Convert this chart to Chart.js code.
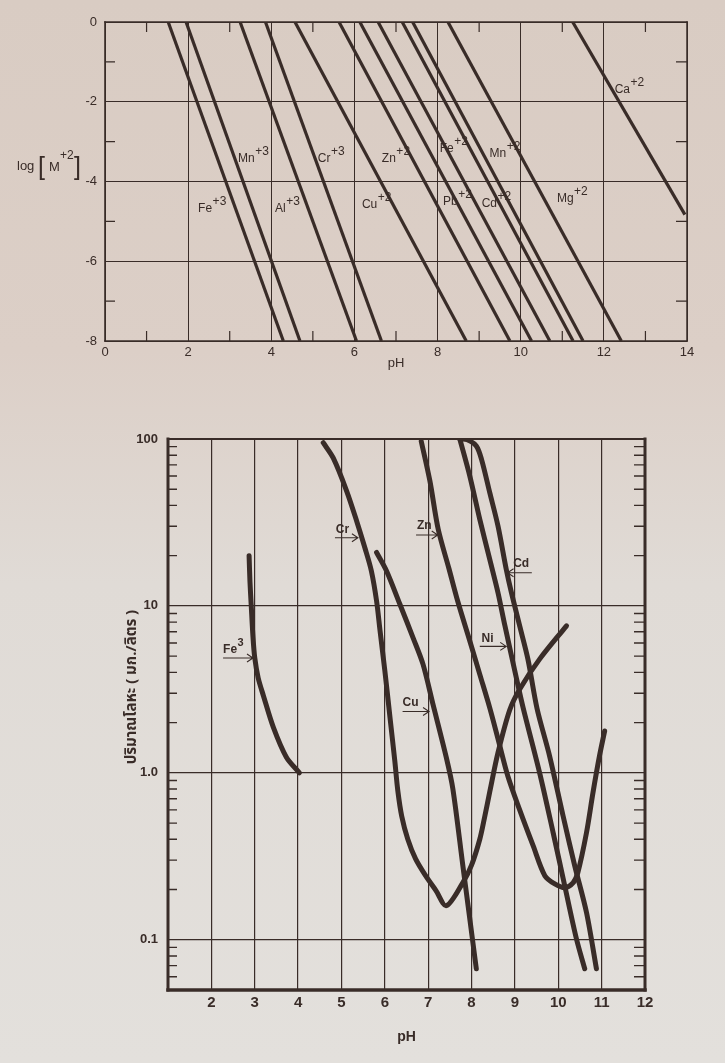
<!DOCTYPE html>
<html>
<head>
<meta charset="utf-8">
<script src="https://cdn.jsdelivr.net/npm/chart.js@4.4.1/dist/chart.umd.min.js"></script>
<style>
html, body { margin: 0; padding: 0; }
body {
  width: 725px; height: 1063px; overflow: hidden; position: relative;
  background: linear-gradient(180deg, #d9ccc3 0%, #dccfc7 33%, #e0dbd6 55%, #e3e0dc 100%);
}
#top { position: absolute; left: 0; top: 0; }
#bottom { position: absolute; left: 0; top: 400px; }
</style>
</head>
<body>
<canvas id="top" width="725" height="375"></canvas>
<canvas id="bottom" width="725" height="663"></canvas>
<script>
var ink = '#392c28';
var sans = "'Liberation Sans', Arial, Helvetica, sans-serif";
Chart.defaults.font.family = sans;
Chart.defaults.color = ink;

// ---- top chart: log[M] vs pH, one straight line per ion ----
var ions     = ['Fe', 'Mn', 'Al', 'Cr', 'Cu', 'Zn', 'Fe', 'Pb', 'Cd', 'Mn', 'Mg', 'Ca'];
var charges  = ['+3', '+3', '+3', '+3', '+2', '+2', '+2', '+2', '+2', '+2', '+2', '+2'];
var startPH  = [1.52, 1.95, 3.25, 3.86, 4.57, 5.63, 6.13, 6.57, 7.15, 7.40, 8.25, 11.25];
var startLog = [0, 0, 0, 0, 0, 0, 0, 0, 0, 0, 0, 0];
var endPH    = [4.29, 4.69, 6.05, 6.65, 8.69, 9.74, 10.26, 10.70, 11.26, 11.50, 12.42, 13.95];
var endLog   = [-8, -8, -8, -8, -8, -8, -8, -8, -8, -8, -8, -4.83];

// ---- bottom chart: dissolved metal (mg/l) vs pH ----
var fePH = [2.87, 2.89, 2.92, 2.96, 3.0, 3.08, 3.2, 3.43, 3.73, 4.03];
var feMg = [20, 14, 10, 6.5, 4.9, 3.7, 2.9, 1.87, 1.24, 1.0];

var crPH = [4.58, 4.81, 5.12, 5.35, 5.54, 5.69, 5.81, 5.89, 6.0, 6.12, 6.23, 6.3, 6.39, 6.53, 6.71, 6.94, 7.18, 7.42,
            7.8, 8.0, 8.19, 8.3, 8.42, 8.61, 8.88, 9.11, 9.57, 10.19];
var crMg = [95, 77, 48.8, 32.3, 22.3, 16.2, 10.7, 7.1, 4.1, 2.14, 1.18, 0.78, 0.55, 0.40, 0.305, 0.242, 0.197, 0.16,
            0.22, 0.28, 0.40, 0.54, 0.77, 1.32, 2.38, 3.17, 4.8, 7.6];

var cuPH = [5.81, 6.04, 6.35, 6.65, 6.88, 7.11, 7.42, 7.57, 7.8, 7.92, 8.11];
var cuMg = [20.9, 16.2, 10.2, 6.46, 4.48, 2.58, 1.23, 0.80, 0.277, 0.16, 0.067];

var znPH = [6.84, 7.04, 7.23, 7.48, 7.68, 7.96, 8.19, 8.42, 8.61, 8.84, 9.11, 9.42, 9.69, 9.92, 10.15, 10.34, 10.45, 10.65, 10.8, 10.95, 11.07];
var znMg = [97, 56, 28.9, 16.7, 10.7, 6.17, 3.89, 2.45, 1.6, 0.95, 0.6, 0.366, 0.242, 0.216, 0.205, 0.219, 0.252, 0.437, 0.76, 1.26, 1.78];

var niPH = [7.73, 7.96, 8.19, 8.42, 8.61, 8.77, 9.04, 9.19, 9.57, 9.88, 10.15, 10.42, 10.61];
var niMg = [100, 60, 33, 19, 12, 7.6, 3.64, 2.45, 1.0, 0.44, 0.21, 0.101, 0.067];

var cdPH = [7.73, 7.9, 8.11, 8.23, 8.42, 8.61, 8.8, 8.92, 9.11, 9.3, 9.51, 9.8, 10.11, 10.38, 10.65, 10.88];
var cdMg = [100, 99, 90.8, 75.5, 47.7, 30.1, 16.6, 12.0, 7.59, 4.8, 2.43, 1.26, 0.553, 0.277, 0.146, 0.067];

var bottomYTicks = [0.06, 0.07, 0.08, 0.09, 0.1, 0.2, 0.3, 0.4, 0.5, 0.6, 0.7, 0.8, 0.9,
  1, 2, 3, 4, 5, 6, 7, 8, 9, 10, 20, 30, 40, 50, 60, 70, 80, 90, 100];
var bottomYLabels = { 100: '100', 10: '10', 1: '1.0', 0.1: '0.1' };

function pairs(xs, ys) {
  return xs.map(function (x, i) { return { x: x, y: ys[i] }; });
}

// text labels placed in data units
var topLabels = [
  { text: 'Fe', sup: '+3', x: 2.24, y: -4.77 },
  { text: 'Mn', sup: '+3', x: 3.20, y: -3.52 },
  { text: 'Cr', sup: '+3', x: 5.12, y: -3.52 },
  { text: 'Zn', sup: '+2', x: 6.66, y: -3.52 },
  { text: 'Al', sup: '+3', x: 4.09, y: -4.77 },
  { text: 'Cu', sup: '+2', x: 6.18, y: -4.67 },
  { text: 'Fe', sup: '+2', x: 8.05, y: -3.27 },
  { text: 'Mn', sup: '+2', x: 9.25, y: -3.39 },
  { text: 'Pb', sup: '+2', x: 8.13, y: -4.60 },
  { text: 'Cd', sup: '+2', x: 9.06, y: -4.65 },
  { text: 'Mg', sup: '+2', x: 10.87, y: -4.52 },
  { text: 'Ca', sup: '+2', x: 12.26, y: -1.78 }
];
var bottomLabels = [
  { text: 'Fe', sup: '3', x: 2.27, y: 5.25, arrow: [2.27, 2.96, 4.88] },
  { text: 'Cr', x: 4.87, y: 27.4, arrow: [4.85, 5.38, 25.6] },
  { text: 'Zn', x: 6.74, y: 28.9, arrow: [6.72, 7.22, 26.6] },
  { text: 'Cu', x: 6.41, y: 2.52, arrow: [6.41, 7.02, 2.33] },
  { text: 'Ni', x: 8.23, y: 6.09, arrow: [8.19, 8.8, 5.72] },
  { text: 'Cd', x: 8.96, y: 17.2, arrow: [9.39, 8.83, 15.8] }
];

// inward minor ticks, frame and in-plot labels
var marks = {
  id: 'marks',
  afterDraw: function (chart, args, o) {
    var ctx = chart.ctx, a = chart.chartArea, xs = chart.scales.x, ys = chart.scales.y;
    ctx.save();
    ctx.strokeStyle = ink;
    ctx.fillStyle = ink;
    ctx.lineWidth = o.tickWidth;
    ctx.beginPath();
    (o.xMinor || []).forEach(function (v) {
      var p = xs.getPixelForValue(v);
      ctx.moveTo(p, a.bottom); ctx.lineTo(p, a.bottom - o.tickLen);
      ctx.moveTo(p, a.top); ctx.lineTo(p, a.top + o.tickLen);
    });
    (o.yMinor || []).forEach(function (v) {
      var p = ys.getPixelForValue(v);
      ctx.moveTo(a.left, p); ctx.lineTo(a.left + o.tickLen, p);
      ctx.moveTo(a.right, p); ctx.lineTo(a.right - o.rightTickLen, p);
    });
    ctx.stroke();

    var b = o.frame;
    ctx.lineCap = 'square';
    [[a.left, a.top, a.right, a.top, b[0]],
     [a.right, a.top, a.right, a.bottom, b[1]],
     [a.left, a.bottom, a.right, a.bottom, b[2]],
     [a.left, a.top, a.left, a.bottom, b[3]]].forEach(function (s) {
      ctx.lineWidth = s[4];
      ctx.beginPath(); ctx.moveTo(s[0], s[1]); ctx.lineTo(s[2], s[3]); ctx.stroke();
    });
    ctx.lineCap = 'butt';

    ctx.textAlign = 'left';
    ctx.textBaseline = 'alphabetic';
    (o.labels || []).forEach(function (l) {
      var px = xs.getPixelForValue(l.x), py = ys.getPixelForValue(l.y);
      ctx.font = o.labelFont;
      ctx.fillText(l.text, px, py);
      if (l.sup) {
        var w = ctx.measureText(l.text).width;
        ctx.font = o.supFont;
        ctx.fillText(l.sup, px + w + 0.5, py - o.supRise);
      }
      if (l.arrow) {
        var x1 = xs.getPixelForValue(l.arrow[0]), x2 = xs.getPixelForValue(l.arrow[1]);
        var ay = ys.getPixelForValue(l.arrow[2]);
        var d = x2 > x1 ? 1 : -1;
        ctx.lineWidth = 1.1;
        ctx.beginPath();
        ctx.moveTo(x1, ay); ctx.lineTo(x2, ay);
        ctx.moveTo(x2 - d * 6, ay - 4); ctx.lineTo(x2, ay); ctx.lineTo(x2 - d * 6, ay + 4);
        ctx.stroke();
      }
    });
    if (o.extra) o.extra(ctx, a);
    ctx.restore();
  }
};

function evenOnly(c) {
  return c.tick && Math.abs(c.tick.value % 2) === 0 ? ink : 'rgba(0,0,0,0)';
}

new Chart(document.getElementById('top'), {
  type: 'line',
  data: {
    datasets: ions.map(function (n, i) {
      return {
        label: n + charges[i],
        data: [{ x: startPH[i], y: startLog[i] }, { x: endPH[i], y: endLog[i] }],
        borderColor: ink, borderWidth: 3.2, pointRadius: 0, fill: false
      };
    })
  },
  options: {
    responsive: false, animation: false, devicePixelRatio: 1,
    layout: { padding: { left: 0, top: 22, right: 38, bottom: 0 } },
    plugins: {
      legend: { display: false }, tooltip: { enabled: false },
      marks: {
        xMinor: [1, 3, 5, 7, 9, 11, 13], yMinor: [-1, -3, -5, -7],
        tickLen: 10, rightTickLen: 11, tickWidth: 1.2,
        frame: [1.5, 1.5, 1.6, 1.6],
        labels: topLabels, labelFont: '12px ' + sans, supFont: '12px ' + sans, supRise: 7,
        extra: function (ctx) {
          ctx.font = '13px ' + sans;
          ctx.fillText('log', 17, 170);
          ctx.font = '300 25px ' + sans;
          ctx.fillText('[', 38, 175);
          ctx.fillText(']', 74, 175);
          ctx.font = '13px ' + sans;
          ctx.fillText('M', 49, 171);
          ctx.font = '12px ' + sans;
          ctx.fillText('+2', 60, 159);
        }
      }
    },
    scales: {
      x: {
        type: 'linear', min: 0, max: 14,
        afterFit: function (s) { s.height = 34; },
        ticks: {
          stepSize: 1, autoSkip: false, maxRotation: 0, padding: 4,
          font: { size: 13 },
          callback: function (v) { return v % 2 === 0 ? String(v) : ''; }
        },
        grid: { drawTicks: false, color: evenOnly, lineWidth: 1 },
        border: { display: false },
        title: { display: true, text: 'pH', font: { size: 13 }, padding: { top: 0, bottom: 4 } }
      },
      y: {
        type: 'linear', min: -8, max: 0,
        afterFit: function (s) { s.width = 105; },
        ticks: {
          stepSize: 1, autoSkip: false, padding: 8,
          font: { size: 13 },
          callback: function (v) { return v % 2 === 0 ? String(v) : ''; }
        },
        grid: { drawTicks: false, color: evenOnly, lineWidth: 1 },
        border: { display: false }
      }
    }
  },
  plugins: [marks]
});

function curve(name, xs, ys) {
  return {
    label: name, data: pairs(xs, ys),
    borderColor: ink, borderWidth: 5, pointRadius: 0, fill: false,
    tension: 0.3,
    borderCapStyle: 'round', borderJoinStyle: 'round'
  };
}

new Chart(document.getElementById('bottom'), {
  type: 'line',
  data: {
    datasets: [
      curve('Fe3', fePH, feMg),
      curve('Cr', crPH, crMg),
      curve('Cu', cuPH, cuMg),
      curve('Zn', znPH, znMg),
      curve('Ni', niPH, niMg),
      curve('Cd', cdPH, cdMg)
    ]
  },
  options: {
    responsive: false, animation: false, devicePixelRatio: 1,
    layout: { padding: { left: 0, top: 39, right: 80, bottom: 0 } },
    plugins: {
      legend: { display: false }, tooltip: { enabled: false },
      marks: {
        yMinor: bottomYTicks.filter(function (v) { return !(v in bottomYLabels); }),
        tickLen: 9, rightTickLen: 11, tickWidth: 1.4,
        frame: [2.2, 3, 3.5, 3],
        labels: bottomLabels, labelFont: 'bold 12px ' + sans, supFont: 'bold 11px ' + sans, supRise: 7,
        extra: function (ctx) {
          ctx.save();
          ctx.translate(133, 287);
          ctx.rotate(-Math.PI / 2);
          ctx.textAlign = 'center';
          ctx.textBaseline = 'middle';
          ctx.font = "bold 15px 'Noto Sans Thai', 'Noto Sans', " + sans;
          ctx.fillText('ปริมาณโลหะ ( มก./ลิตร )', 0, 0);
          ctx.restore();
        }
      }
    },
    scales: {
      x: {
        type: 'linear', min: 1, max: 12,
        afterFit: function (s) { s.height = 73; },
        ticks: {
          stepSize: 1, autoSkip: false, maxRotation: 0, padding: 4,
          font: { size: 15, weight: 'bold' },
          callback: function (v) { return v >= 2 ? String(v) : ''; }
        },
        grid: { drawTicks: false, color: ink, lineWidth: 1.2 },
        border: { display: false },
        title: { display: true, text: 'pH', font: { size: 14, weight: 'bold' }, padding: { top: 0, bottom: 17 } }
      },
      y: {
        type: 'logarithmic', min: 0.05, max: 100,
        afterFit: function (s) { s.width = 168; },
        afterBuildTicks: function (s) {
          s.ticks = bottomYTicks.map(function (v) { return { value: v }; });
        },
        ticks: {
          autoSkip: false, padding: 10,
          font: { size: 13, weight: 'bold' },
          callback: function (v) { return bottomYLabels[v] || ''; }
        },
        grid: {
          drawTicks: false, lineWidth: 1.2,
          color: function (c) { return c.tick && (c.tick.value in bottomYLabels) ? ink : 'rgba(0,0,0,0)'; }
        },
        border: { display: false }
      }
    }
  },
  plugins: [marks]
});
</script>
</body>
</html>
